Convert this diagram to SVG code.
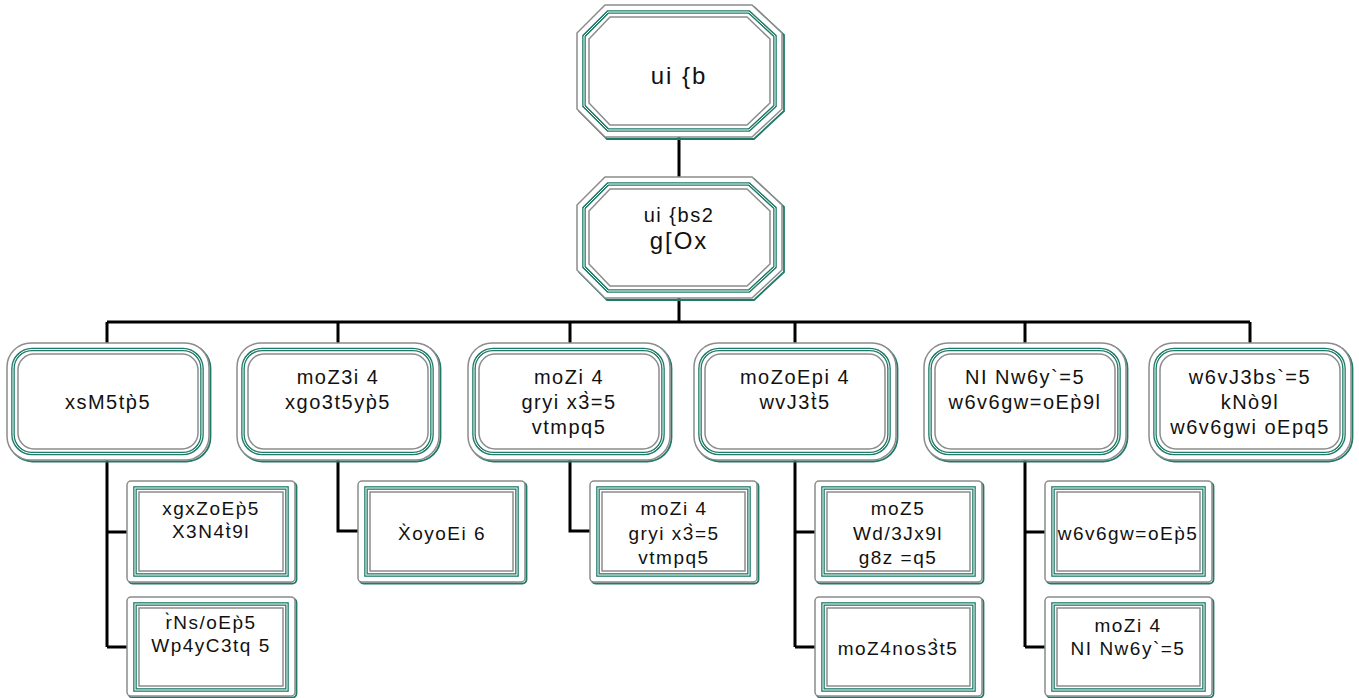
<svg xmlns="http://www.w3.org/2000/svg" width="1359" height="698" viewBox="0 0 1359 698">
<style>
.bg{fill:#ffffff}
.ot{fill:none;stroke:#1f7a68;stroke-width:1.8}
.og{fill:#ffffff;stroke:#8c8c8c;stroke-width:1.5}
.it{fill:none;stroke:#1f7a68;stroke-width:3.6}
.iw{fill:none;stroke:#ffffff;stroke-width:1}
.ig{fill:none;stroke:#8c8c8c;stroke-width:1.5}
.conn{fill:none;stroke:#000000;stroke-width:3}
text{font-family:"Liberation Sans",Arial,sans-serif;fill:#111111;text-anchor:middle;letter-spacing:1.5px}
.t24{font-size:24px;letter-spacing:2px}
.t20{font-size:20px}
.t19{font-size:19px}
</style>
<rect class="bg" x="0" y="0" width="1359" height="698"/>
<g id="connectors">
<path class="conn" d="M679,137V177"/>
<path class="conn" d="M679,298V322"/>
<path class="conn" d="M107,322H1250"/>
<path class="conn" d="M107,322V343M338,322V343M570,322V343M795,322V343M1025,322V343M1250,322V343"/>
<path class="conn" d="M107,460V647M107,532H127M107,647H127"/>
<path class="conn" d="M338,460V531H358"/>
<path class="conn" d="M570,460V531H590"/>
<path class="conn" d="M795,460V647M795,532H815M795,647H815"/>
<path class="conn" d="M1025,460V647M1025,532H1045M1025,647H1045"/>
</g>
<g id="n0">
<polygon class="ot" points="607,7 754,7 784,35 784,111 754,139 607,139 579,111 579,35"/>
<polygon class="og" points="605,5 752,5 782,33 782,109 752,137 605,137 577,109 577,33"/>
<polygon class="it" points="608,12 749,12 775,36 775,106 749,130 608,130 584,106 584,36"/>
<polygon class="iw" points="608,12 749,12 775,36 775,106 749,130 608,130 584,106 584,36"/>
<polygon class="ig" points="610,17 747,17 770,39 770,103 747,125 610,125 589,103 589,39"/>
<text class="t24" x="679" y="84">ui {b</text>
</g>
<g id="n1">
<polygon class="ot" points="607,179 754,179 784,207 784,272 754,300 607,300 579,272 579,207"/>
<polygon class="og" points="605,177 752,177 782,205 782,270 752,298 605,298 577,270 577,205"/>
<polygon class="it" points="608,184 749,184 775,208 775,267 749,291 608,291 584,267 584,208"/>
<polygon class="iw" points="608,184 749,184 775,208 775,267 749,291 608,291 584,267 584,208"/>
<polygon class="ig" points="610,189 747,189 770,211 770,264 747,286 610,286 589,264 589,211"/>
<text class="t20" x="679" y="222">ui {bs2</text>
<text class="t24" x="679" y="249">g[Ox</text>
</g>
<g id="r1">
<rect class="ot" x="8.5" y="344.5" width="202" height="117" rx="24"/>
<rect class="og" x="7" y="343" width="202" height="117" rx="24"/>
<rect class="it" x="13" y="349.5" width="189" height="104" rx="19"/>
<rect class="iw" x="13" y="349.5" width="189" height="104" rx="19"/>
<rect class="ig" x="18" y="354" width="180" height="95" rx="16"/>
<text class="t20" x="108" y="409">xsM5tp̀5</text>
</g>
<g id="r2">
<rect class="ot" x="238.5" y="344.5" width="202" height="117" rx="24"/>
<rect class="og" x="237" y="343" width="202" height="117" rx="24"/>
<rect class="it" x="243" y="349.5" width="189" height="104" rx="19"/>
<rect class="iw" x="243" y="349.5" width="189" height="104" rx="19"/>
<rect class="ig" x="248" y="354" width="180" height="95" rx="16"/>
<text class="t20" x="338" y="384">moZ3i 4</text>
<text class="t20" x="338" y="409">xgo3t5yp̀5</text>
</g>
<g id="r3">
<rect class="ot" x="469.5" y="344.5" width="202" height="117" rx="24"/>
<rect class="og" x="468" y="343" width="202" height="117" rx="24"/>
<rect class="it" x="474" y="349.5" width="189" height="104" rx="19"/>
<rect class="iw" x="474" y="349.5" width="189" height="104" rx="19"/>
<rect class="ig" x="479" y="354" width="180" height="95" rx="16"/>
<text class="t20" x="569" y="384">moZi 4</text>
<text class="t20" x="569" y="409">gryi x3̀=5</text>
<text class="t20" x="569" y="434">vtmpq5</text>
</g>
<g id="r4">
<rect class="ot" x="695.5" y="344.5" width="202" height="117" rx="24"/>
<rect class="og" x="694" y="343" width="202" height="117" rx="24"/>
<rect class="it" x="700" y="349.5" width="189" height="104" rx="19"/>
<rect class="iw" x="700" y="349.5" width="189" height="104" rx="19"/>
<rect class="ig" x="705" y="354" width="180" height="95" rx="16"/>
<text class="t20" x="795" y="384">moZoEpi 4</text>
<text class="t20" x="795" y="409">wvJ3t̀5</text>
</g>
<g id="r5">
<rect class="ot" x="925.5" y="344.5" width="202" height="117" rx="24"/>
<rect class="og" x="924" y="343" width="202" height="117" rx="24"/>
<rect class="it" x="930" y="349.5" width="189" height="104" rx="19"/>
<rect class="iw" x="930" y="349.5" width="189" height="104" rx="19"/>
<rect class="ig" x="935" y="354" width="180" height="95" rx="16"/>
<text class="t20" x="1025" y="384">NI Nw6y`=5</text>
<text class="t20" x="1025" y="409">w6v6gw=oEp̀9l</text>
</g>
<g id="r6">
<rect class="ot" x="1150.5" y="344.5" width="202" height="117" rx="24"/>
<rect class="og" x="1149" y="343" width="202" height="117" rx="24"/>
<rect class="it" x="1155" y="349.5" width="189" height="104" rx="19"/>
<rect class="iw" x="1155" y="349.5" width="189" height="104" rx="19"/>
<rect class="ig" x="1160" y="354" width="180" height="95" rx="16"/>
<text class="t20" x="1250" y="384">w6vJ3bs`=5</text>
<text class="t20" x="1250" y="409">kNò9l</text>
<text class="t20" x="1250" y="434">w6v6gwi oEpq5</text>
</g>
<g id="c1a">
<rect class="ot" x="128.5" y="482.5" width="168" height="101" rx="4"/>
<rect class="og" x="127" y="481" width="168" height="101" rx="4"/>
<rect class="it" x="135" y="488" width="152" height="87"/>
<rect class="iw" x="135" y="488" width="152" height="87"/>
<rect class="ig" x="139" y="492" width="144" height="79"/>
<text class="t19" x="211" y="515">xgxZoEp̀5</text>
<text class="t19" x="211" y="538">X3N4t̀9l</text>
</g>
<g id="c1b">
<rect class="ot" x="128.5" y="598.5" width="168" height="99" rx="4"/>
<rect class="og" x="127" y="597" width="168" height="99" rx="4"/>
<rect class="it" x="135" y="604" width="152" height="86"/>
<rect class="iw" x="135" y="604" width="152" height="86"/>
<rect class="ig" x="139" y="608" width="144" height="78"/>
<text class="t19" x="211" y="629">r̀Ns/oEp̀5</text>
<text class="t19" x="211" y="652">Wp4yC3tq 5</text>
</g>
<g id="c2">
<rect class="ot" x="359.5" y="482.5" width="167" height="101" rx="4"/>
<rect class="og" x="358" y="481" width="167" height="101" rx="4"/>
<rect class="it" x="366" y="488" width="151" height="87"/>
<rect class="iw" x="366" y="488" width="151" height="87"/>
<rect class="ig" x="370" y="492" width="143" height="79"/>
<text class="t19" x="442" y="540">X̀oyoEi 6</text>
</g>
<g id="c3">
<rect class="ot" x="591.5" y="482.5" width="167" height="101" rx="4"/>
<rect class="og" x="590" y="481" width="167" height="101" rx="4"/>
<rect class="it" x="598" y="488" width="151" height="87"/>
<rect class="iw" x="598" y="488" width="151" height="87"/>
<rect class="ig" x="602" y="492" width="143" height="79"/>
<text class="t19" x="674" y="515">moZi 4</text>
<text class="t19" x="674" y="540">gryi x3̀=5</text>
<text class="t19" x="674" y="564">vtmpq5</text>
</g>
<g id="c4a">
<rect class="ot" x="816.5" y="482.5" width="167" height="101" rx="4"/>
<rect class="og" x="815" y="481" width="167" height="101" rx="4"/>
<rect class="it" x="823" y="488" width="151" height="87"/>
<rect class="iw" x="823" y="488" width="151" height="87"/>
<rect class="ig" x="827" y="492" width="143" height="79"/>
<text class="t19" x="898" y="515">moZ5</text>
<text class="t19" x="898" y="540">Wd/3Jx9l</text>
<text class="t19" x="898" y="564">g8z =q5</text>
</g>
<g id="c4b">
<rect class="ot" x="816.5" y="598.5" width="167" height="99" rx="4"/>
<rect class="og" x="815" y="597" width="167" height="99" rx="4"/>
<rect class="it" x="823" y="604" width="151" height="86"/>
<rect class="iw" x="823" y="604" width="151" height="86"/>
<rect class="ig" x="827" y="608" width="143" height="78"/>
<text class="t19" x="898" y="655">moZ4nos3̀t5</text>
</g>
<g id="c5a">
<rect class="ot" x="1046.5" y="482.5" width="167" height="101" rx="4"/>
<rect class="og" x="1045" y="481" width="167" height="101" rx="4"/>
<rect class="it" x="1053" y="488" width="151" height="87"/>
<rect class="iw" x="1053" y="488" width="151" height="87"/>
<rect class="ig" x="1057" y="492" width="143" height="79"/>
<text class="t19" x="1128" y="540">w6v6gw=oEp̀5</text>
</g>
<g id="c5b">
<rect class="ot" x="1046.5" y="598.5" width="167" height="99" rx="4"/>
<rect class="og" x="1045" y="597" width="167" height="99" rx="4"/>
<rect class="it" x="1053" y="604" width="151" height="86"/>
<rect class="iw" x="1053" y="604" width="151" height="86"/>
<rect class="ig" x="1057" y="608" width="143" height="78"/>
<text class="t19" x="1128" y="632">moZi 4</text>
<text class="t19" x="1128" y="655">NI Nw6y`=5</text>
</g>
</svg>
